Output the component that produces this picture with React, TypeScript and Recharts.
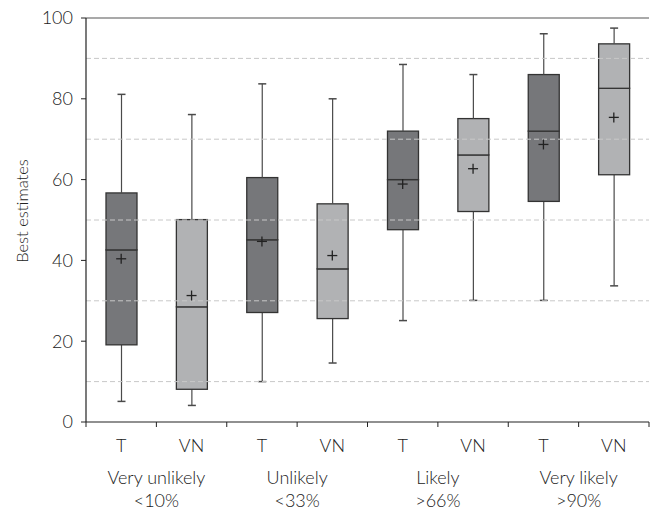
import React from "react";
import { ComposedChart, Bar, Scatter, XAxis, YAxis, ReferenceLine } from "recharts";

// one entry per box, left to right
const groups = ["T", "VN", "T", "VN", "T", "VN", "T", "VN"];
const groupLabels = [
  ["Very unlikely", "<10%"],
  ["Unlikely", "<33%"],
  ["Likely", ">66%"],
  ["Very likely", ">90%"],
];
const mins = [5.1, 4.1, 10.0, 14.6, 25.1, 30.1, 30.1, 33.7];
const q1s = [19.1, 8.1, 27.1, 25.6, 47.6, 52.1, 54.6, 61.2];
const medians = [42.6, 28.5, 45.1, 37.9, 60.0, 66.1, 72.0, 82.6];
const q3s = [56.7, 50.1, 60.5, 54.0, 72.0, 75.1, 86.0, 93.6];
const maxs = [81.1, 76.1, 83.7, 80.0, 88.5, 86.0, 96.1, 97.5];
const means = [40.4, 31.3, 44.7, 41.2, 58.9, 62.7, 68.7, 75.4];
const yTicks = [0, 20, 40, 60, 80, 100];
const gridLines = [10, 30, 50, 70, 90];

const data = groups.map((g, i) => ({
  key: `${g}-${i}`,
  group: g,
  base: mins[i],
  lowWhisker: q1s[i] - mins[i],
  lowBox: medians[i] - q1s[i],
  highBox: q3s[i] - medians[i],
  highWhisker: maxs[i] - q3s[i],
  mean: means[i],
}));

const FONT = "Lato, 'Open Sans', sans-serif";
const WEIGHT = 300;
const TEXT = "#222";
const WIDTH = 654;
const HEIGHT = 510;
const MARGIN = { top: 18, right: 5, bottom: 0, left: 0 };
const Y_AXIS_W = 86;
const BAND = (WIDTH - MARGIN.left - MARGIN.right - Y_AXIS_W) / groups.length;

const boxFill = (g: string) => (g === "T" ? "#76777a" : "#b1b2b4");

const whisker = (cap: "top" | "bottom") => (props: any) => {
  const { x, y, width, height } = props;
  const cx = x + width / 2;
  const capY = cap === "top" ? y : y + height;
  return (
    <g>
      <line x1={cx} x2={cx} y1={y} y2={y + height} stroke="#4a4a4a" strokeWidth={1.2} />
      <line x1={cx - 4} x2={cx + 4} y1={capY} y2={capY} stroke="#4a4a4a" strokeWidth={1.5} />
    </g>
  );
};

const boxPart = (props: any) => {
  const { x, y, width, height, payload } = props;
  return (
    <rect
      x={x}
      y={y}
      width={width}
      height={height}
      fill={boxFill(payload.group)}
      stroke="#333"
      strokeWidth={1.3}
    />
  );
};

const meanMark = (props: any) => {
  const { cx, cy } = props;
  return (
    <g stroke="#222" strokeWidth={1.3}>
      <line x1={cx - 5} x2={cx + 5} y1={cy} y2={cy} />
      <line x1={cx} x2={cx} y1={cy - 5} y2={cy + 5} />
    </g>
  );
};

const XTick = (props: any) => {
  const { x, y, payload } = props;
  const i = payload.index;
  const label = groups[i];
  const pair = i % 2 === 0 ? groupLabels[i / 2] : null;
  return (
    <g>
      {i === 0 && <line x1={x - BAND / 2} x2={x - BAND / 2} y1={y} y2={y + 5} stroke="#222" />}
      <line x1={x + BAND / 2} x2={x + BAND / 2} y1={y} y2={y + 5} stroke="#222" />
      <text x={x} y={y + 23} textAnchor="middle" dominantBaseline="central" fontSize={18} fontWeight={WEIGHT} fill={TEXT} fontFamily={FONT}>
        {label}
      </text>
      {pair && (
        <text textAnchor="middle" fontSize={18} fontWeight={WEIGHT} fill={TEXT} fontFamily={FONT}>
          <tspan x={x + BAND / 2} y={y + 62}>{pair[0]}</tspan>
          <tspan x={x + BAND / 2} y={y + 85}>{pair[1]}</tspan>
        </text>
      )}
    </g>
  );
};

const YLabel = (props: any) => {
  const { viewBox } = props;
  const x = viewBox.x + 22;
  const y = viewBox.y + viewBox.height / 2 - 9;
  return (
    <text
      x={x}
      y={y}
      transform={`rotate(-90 ${x} ${y})`}
      textAnchor="middle"
      dominantBaseline="central"
      fontSize={16.5}
      fontWeight={WEIGHT}
      fill={TEXT}
      fontFamily={FONT}
    >
      Best estimates
    </text>
  );
};

export default function App() {
  return (
    <div style={{ position: "absolute", left: 0, top: 0 }}>
      <ComposedChart width={WIDTH} height={HEIGHT} data={data} margin={MARGIN}>
        <XAxis
          dataKey="key"
          tickLine={false}
          tickSize={0}
          tickMargin={0}
          height={510 - 18 - 404}
          axisLine={{ stroke: "#222", strokeWidth: 1.2 }}
          tick={<XTick />}
          interval={0}
        />
        <YAxis
          domain={[0, 100]}
          ticks={yTicks}
          width={Y_AXIS_W}
          tickSize={5}
          tickMargin={8}
          axisLine={{ stroke: "#222", strokeWidth: 1.2 }}
          tickLine={{ stroke: "#222" }}
          tick={{ fontSize: 18, fontWeight: WEIGHT, fill: TEXT, fontFamily: FONT }}
          label={<YLabel />}
        />
        <YAxis
          yAxisId="right"
          orientation="right"
          width={0}
          tick={false}
          tickLine={false}
          axisLine={{ stroke: "#222", strokeWidth: 1.2 }}
        />
        <Bar dataKey="base" stackId="box" fill="none" isAnimationActive={false} barSize={31} />
        <Bar dataKey="lowWhisker" stackId="box" shape={whisker("bottom")} isAnimationActive={false} barSize={31} />
        <Bar dataKey="lowBox" stackId="box" shape={boxPart} isAnimationActive={false} barSize={31} />
        <Bar dataKey="highBox" stackId="box" shape={boxPart} isAnimationActive={false} barSize={31} />
        <Bar dataKey="highWhisker" stackId="box" shape={whisker("top")} isAnimationActive={false} barSize={31} />
        {/* dashed guides sit on top of the boxes in the original */}
        {gridLines.map((v) => (
          <ReferenceLine key={v} y={v} stroke="#c8c8c8" strokeDasharray="5 3" ifOverflow="visible" />
        ))}
        <ReferenceLine y={100} stroke="#555" strokeWidth={1.2} />
        <Scatter dataKey="mean" shape={meanMark} isAnimationActive={false} />
      </ComposedChart>
    </div>
  );
}
